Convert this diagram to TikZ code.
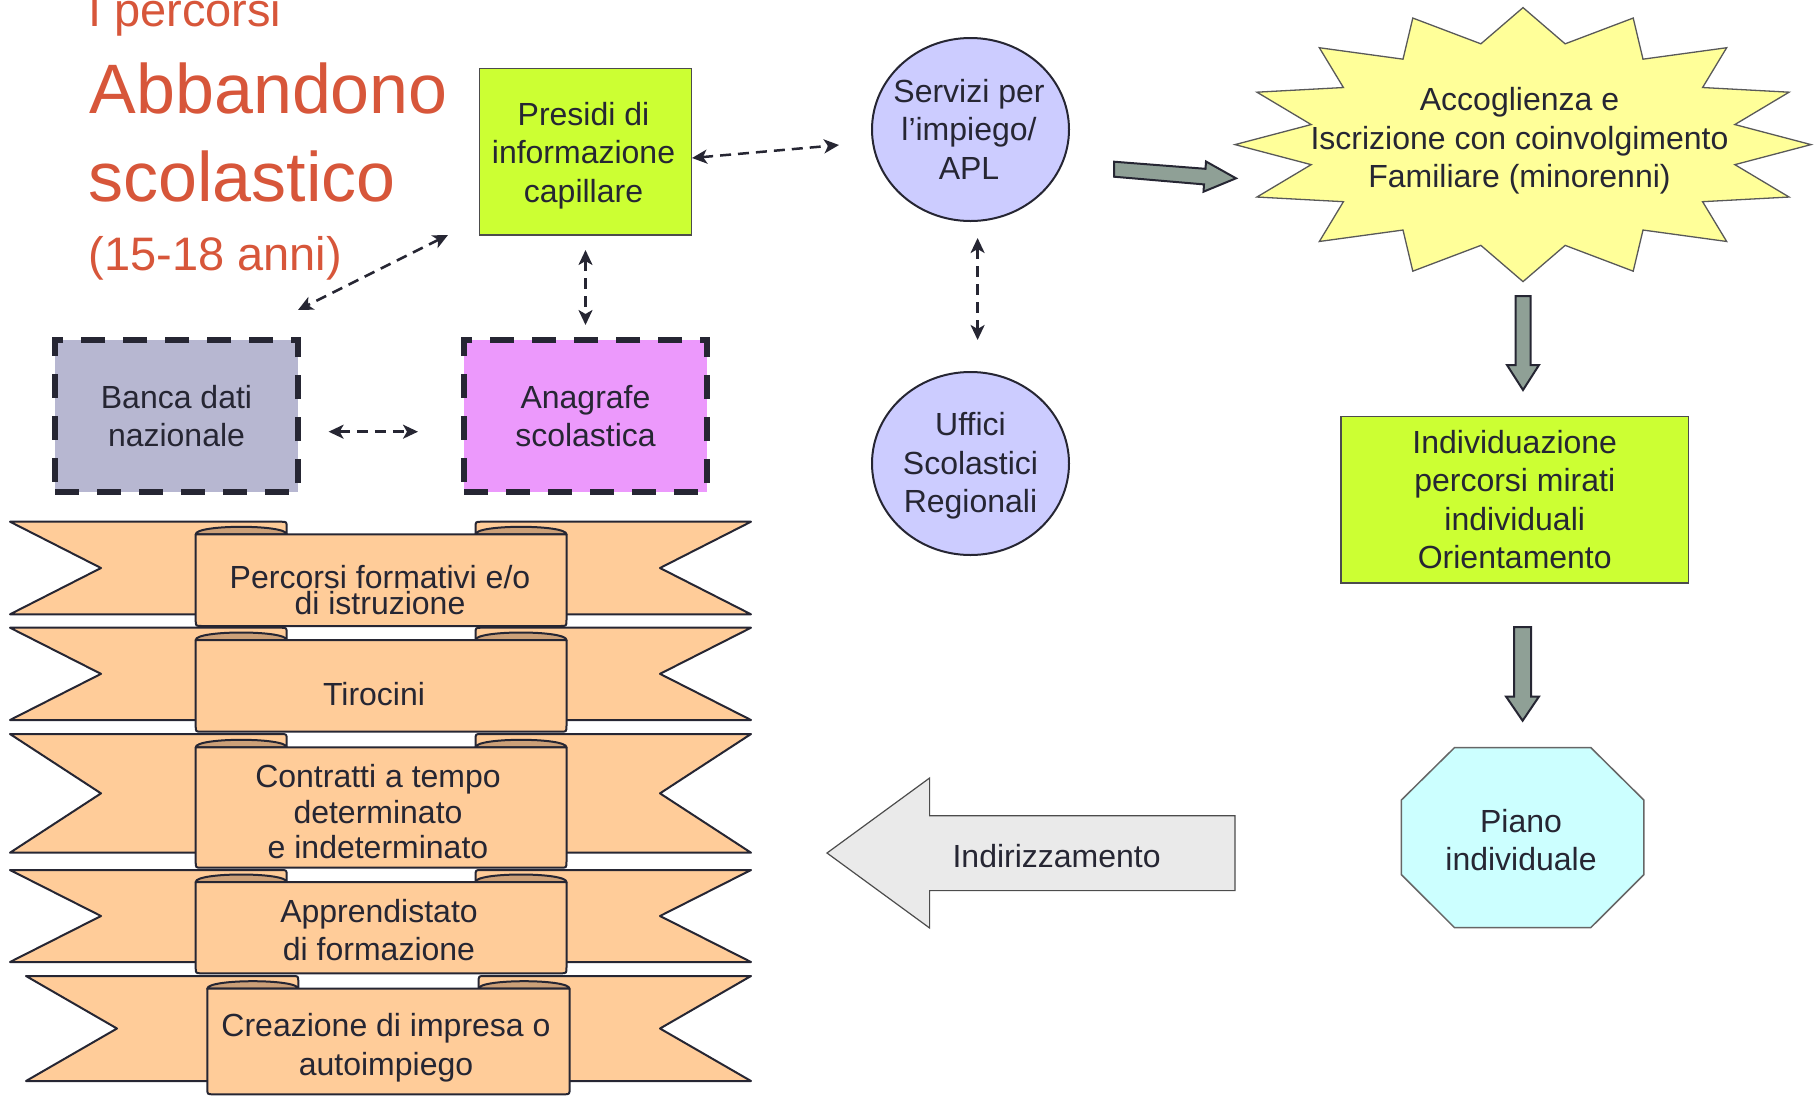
\documentclass[tikz,border=0pt]{standalone}
\usepackage{fontspec}
\setmainfont{Liberation Sans}
\usetikzlibrary{arrows.meta,shapes.geometric}
\definecolor{ink}{RGB}{38,38,51}
\definecolor{titlered}{RGB}{215,86,58}
\definecolor{lime}{RGB}{204,255,51}
\definecolor{lav}{RGB}{204,204,255}
\definecolor{staryel}{RGB}{255,255,153}
\definecolor{cyanl}{RGB}{204,255,255}
\definecolor{bancac}{RGB}{183,183,209}
\definecolor{anagc}{RGB}{236,153,252}
\definecolor{peach}{RGB}{255,204,153}
\definecolor{tanc}{RGB}{204,160,120}
\definecolor{agray}{RGB}{143,160,150}
\definecolor{lgray}{RGB}{234,234,234}
\newcommand\ribbonband[8]{%
  \pgfmathsetmacro\rM{(#1+#2)/2}%
  \pgfmathsetmacro\rA{#6+91}%
  \pgfmathsetmacro\rB{#7-91}%
  \draw[band] (#5,#1) -- ({\rA-6},#1) .. controls (\rA,#1) .. (\rA,{#1+6}) -- (\rA,#2) -- (#5,#2) -- ({#5+91},\rM) -- cycle;
  \draw[band] (#8,#1) -- ({\rB+6},#1) .. controls (\rB,#1) .. (\rB,{#1+6}) -- (\rB,#2) -- (#8,#2) -- ({#8-91},\rM) -- cycle;
  \draw[tabsty] (#6,#3) .. controls (#6,{#3-10}) and (\rA,{#3-10}) .. (\rA,#3) -- cycle;
  \draw[tabsty] (\rB,#3) .. controls (\rB,{#3-10}) and (#7,{#3-10}) .. (#7,#3) -- cycle;
  \draw[band] (#6,#3) -- (#6,{#4-6}) .. controls (#6,#4) .. ({#6+6},#4) -- ({#7-6},#4) .. controls (#7,#4) .. (#7,{#4-6}) -- (#7,#3) -- cycle;
}
\begin{document}
\begin{tikzpicture}[x=1pt,y=-1pt,
  txt/.style={font=\fontsize{32}{38.5}\selectfont, text=ink, align=center, inner sep=0pt},
  title/.style={text=titlered, inner sep=0pt, anchor=base west},
  band/.style={draw=ink, line width=2pt, fill=peach, line join=round},
  tabsty/.style={draw=ink, line width=2pt, fill=tanc, line join=round},
  dconn/.style={draw=ink, line width=2.5pt, dash pattern=on 11pt off 7pt, {Stealth[length=15pt,width=14pt,inset=4pt]}-{Stealth[length=15pt,width=14pt,inset=4pt]}},
  garrow/.style={draw=ink, line width=2pt, fill=agray, line join=miter},
  dbox/.style={draw=ink, line width=5.5pt, dash pattern=on 24pt off 18pt, minimum width=243pt, minimum height=152pt, txt},
  gbox/.style={draw=black!70, line width=1.5pt, fill=lime, txt},
  oval/.style={ellipse, draw=ink, line width=2pt, fill=lav, minimum width=197pt, minimum height=183pt, inner sep=0pt}
]
\useasboundingbox (0,0) rectangle (1816,1096);

% title
\node[title, font=\fontsize{47}{47}\selectfont] (t1) at (88,26.7) {I percorsi};
\node[title, font=\fontsize{70}{70}\selectfont] (t2) at (89.5,113.3) {Abbandono};
\node[title, font=\fontsize{70}{70}\selectfont] (t3) at (88,201) {scolastico};
\node[title, font=\fontsize{47}{47}\selectfont] (t4) at (88.5,270) {(15-18 anni)};

% boxes
\node[gbox, minimum width=212pt, minimum height=166.7pt] (presidi) at (585.5,151.6) {};
\node[txt] (presidit) at (583.5,155.5) {Presidi di\\informazione\\capillare};
\node[dbox, fill=bancac] (banca) at (176.5,416) {Banca dati\\nazionale};
\node[dbox, fill=anagc] (anag) at (585.5,416) {Anagrafe\\scolastica};

% ellipses
\node[oval] (serv) at (970.5,129.5) {};
\node[txt] (servt) at (969,129) {Servizi per\\l’impiego/\\APL};
\node[oval] (uff) at (970.5,463.5) {};
\node[txt] (ufft) at (970.5,466) {Uffici\\Scolastici\\Regionali};

% dashed connectors
\coordinate (c1a) at (692,158);   \coordinate (c1b) at (839,145);
\coordinate (c2a) at (448,235);   \coordinate (c2b) at (298,310);
\coordinate (c3a) at (585.5,250); \coordinate (c3b) at (585.5,325);
\coordinate (c4a) at (328.6,431.7); \coordinate (c4b) at (418,431.7);
\coordinate (c5a) at (977.6,238); \coordinate (c5b) at (977.6,340);
\draw[dconn] (c1a) -- (c1b);
\draw[dconn] (c2a) -- (c2b);
\draw[dconn] (c3a) -- (c3b);
\draw[dconn] (c4a) -- (c4b);
\draw[dconn] (c5a) -- (c5b);

% star
\draw[draw=black!65, line width=1.3pt, fill=staryel, line join=miter] (1523,7.6)
  \foreach \i in {0,...,15} { -- ({1523+288*sin(22.5*\i)},{144.6-137*cos(22.5*\i)}) -- ({1523+216*sin(22.5*\i+11.25)},{144.6-102.75*cos(22.5*\i+11.25)}) } -- cycle;
\node[txt] (start) at (1519.5,141) {Accoglienza e\\Iscrizione con coinvolgimento\\Familiare (minorenni)};

% grey block arrows
\draw[garrow] (1114,161.7) -- (1205.5,168.8) -- (1206,161.5) -- (1236,178.3) -- (1203.5,191.7) -- (1204,184.4) -- (1114,176.7) -- cycle;
\draw[garrow] (1515.5,296) -- (1530.5,296) -- (1530.5,365) -- (1539,365) -- (1523,390) -- (1507,365) -- (1515.5,365) -- cycle;
\draw[garrow] (1514,627) -- (1531,627) -- (1531,696.5) -- (1539,696.5) -- (1522.6,720.7) -- (1506,696.5) -- (1514,696.5) -- cycle;

% individuazione
\node[gbox, minimum width=347.5pt, minimum height=166.5pt] (indiv) at (1514.75,499.5) {Individuazione\\percorsi mirati\\individuali\\Orientamento};

% octagon
\draw[draw=black!60, line width=1.5pt, fill=cyanl] (1454.6,747.5) -- (1590.7,747.5) -- (1643.8,800) -- (1643.8,874.7) -- (1590.7,927.7) -- (1454.6,927.7) -- (1401.4,874.7) -- (1401.4,800) -- cycle;
\node[txt] (piano) at (1521,840) {Piano\\individuale};

% indirizzamento arrow
\draw[draw=black!70, line width=1.2pt, fill=lgray] (827,853) -- (929.6,778) -- (929.6,815.8) -- (1235,815.8) -- (1235,890.6) -- (929.6,890.6) -- (929.6,928) -- cycle;
\node[txt, anchor=base] (indir) at (1056.6,867) {Indirizzamento};

% ribbons: T B FT FB L fx1 fx2 R
\ribbonband{521.7}{614.3}{534.3}{626}{10}{195.7}{566.5}{751}
\node[txt, font=\fontsize{32}{25.5}\selectfont] (r1) at (380,590) {Percorsi formativi e/o\\di istruzione};
\ribbonband{627.7}{720}{640}{731.7}{10}{195.7}{566.5}{751}
\node[txt] (r2) at (374,694.5) {Tirocini};
\ribbonband{734}{852.7}{747.3}{867.7}{10}{195.7}{566.5}{751}
\node[txt, font=\fontsize{32}{35.5}\selectfont] (r3) at (378,812) {Contratti a tempo\\determinato\\e indeterminato};
\ribbonband{870}{962}{882}{973.3}{10}{195.7}{566.5}{751}
\node[txt, font=\fontsize{32}{37.3}\selectfont] (r4) at (379,930) {Apprendistato\\di formazione};
\ribbonband{976}{1081}{988.7}{1094.3}{26}{207.3}{569.6}{751}
\node[txt] (r5) at (386,1047.5) {Creazione di impresa o\\autoimpiego};
\end{tikzpicture}
\end{document}
